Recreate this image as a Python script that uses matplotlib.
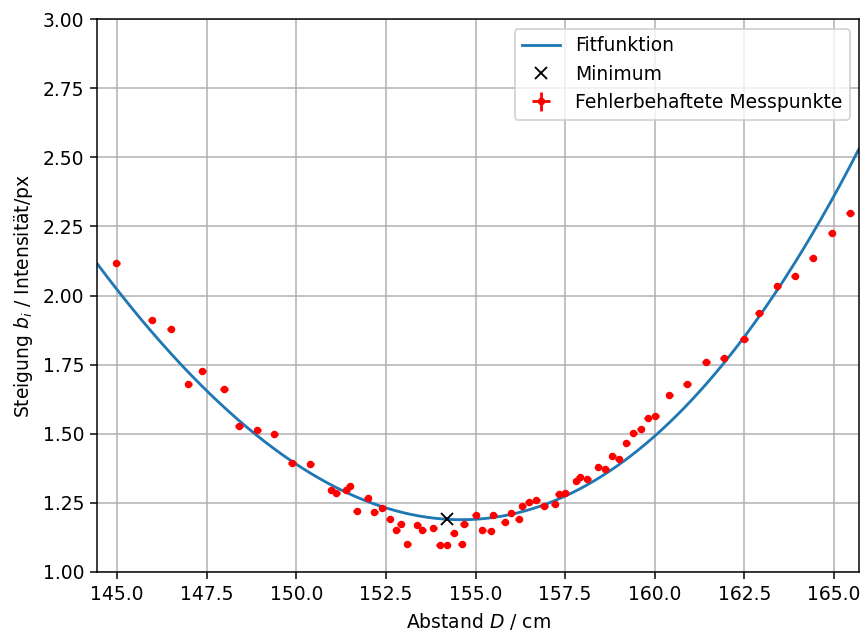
import numpy as np
import matplotlib
matplotlib.use('Agg')
import matplotlib.pyplot as plt

# Messpunkte: Abstand D / cm und Steigung b_i
D = [144.98, 145.96, 146.49, 146.98, 147.38, 147.98, 148.40, 148.91, 149.39, 149.88,
     150.39, 150.97, 151.12, 151.39, 151.49, 151.68, 151.99, 152.18, 152.40, 152.60,
     152.79, 152.91, 153.09, 153.37, 153.52, 153.82, 154.00, 154.20, 154.39, 154.61,
     154.68, 155.01, 155.19, 155.42, 155.49, 155.81, 156.00, 156.21, 156.31, 156.49,
     156.70, 156.91, 157.21, 157.33, 157.51, 157.81, 157.91, 158.12, 158.42, 158.62,
     158.82, 158.99, 159.21, 159.40, 159.61, 159.80, 160.02, 160.41, 160.90, 161.43,
     161.92, 162.49, 162.91, 163.42, 163.91, 164.41, 164.94, 165.45]
b = [2.116, 1.913, 1.879, 1.681, 1.725, 1.661, 1.526, 1.512, 1.499, 1.395,
     1.389, 1.297, 1.285, 1.295, 1.309, 1.221, 1.266, 1.215, 1.229, 1.192,
     1.152, 1.171, 1.101, 1.168, 1.152, 1.157, 1.097, 1.097, 1.141, 1.101,
     1.171, 1.205, 1.152, 1.146, 1.205, 1.181, 1.211, 1.192, 1.237, 1.251,
     1.261, 1.236, 1.245, 1.282, 1.285, 1.330, 1.342, 1.334, 1.380, 1.373,
     1.420, 1.407, 1.467, 1.501, 1.518, 1.557, 1.562, 1.640, 1.680, 1.760,
     1.774, 1.843, 1.937, 2.036, 2.070, 2.135, 2.225, 2.300]
D_err = 0.1
b_err = 0.005

# Fitparameter
x0 = 154.6
c0 = 1.188
a2 = 0.0099
a3 = 0.00009

# Minimum
D_min = 154.2
b_min = 1.192

xlim = (144.45, 165.7)


def fit(x):
    d = x - x0
    return c0 + a2 * d**2 + a3 * d**3


fig = plt.figure(figsize=(6.4, 4.704), dpi=135)
ax = fig.add_axes([0.1128, 0.0998, 0.8814, 0.8696])

x = np.linspace(xlim[0], xlim[1], 500)
ax.plot(x, fit(x), label='Fitfunktion')
ax.plot(D_min, b_min, 'kx', label='Minimum')
ax.errorbar(D, b, xerr=D_err, yerr=b_err, fmt='r.', label='Fehlerbehaftete Messpunkte')

ax.set_xlim(*xlim)
ax.set_ylim(1.0, 3.0)
ax.set_xlabel('Abstand $D$ / cm')
ax.set_ylabel('Steigung $b_i$ / Intensität/px')
ax.grid()
ax.legend(loc='upper right')

plt.savefig('out.png', dpi=135)
